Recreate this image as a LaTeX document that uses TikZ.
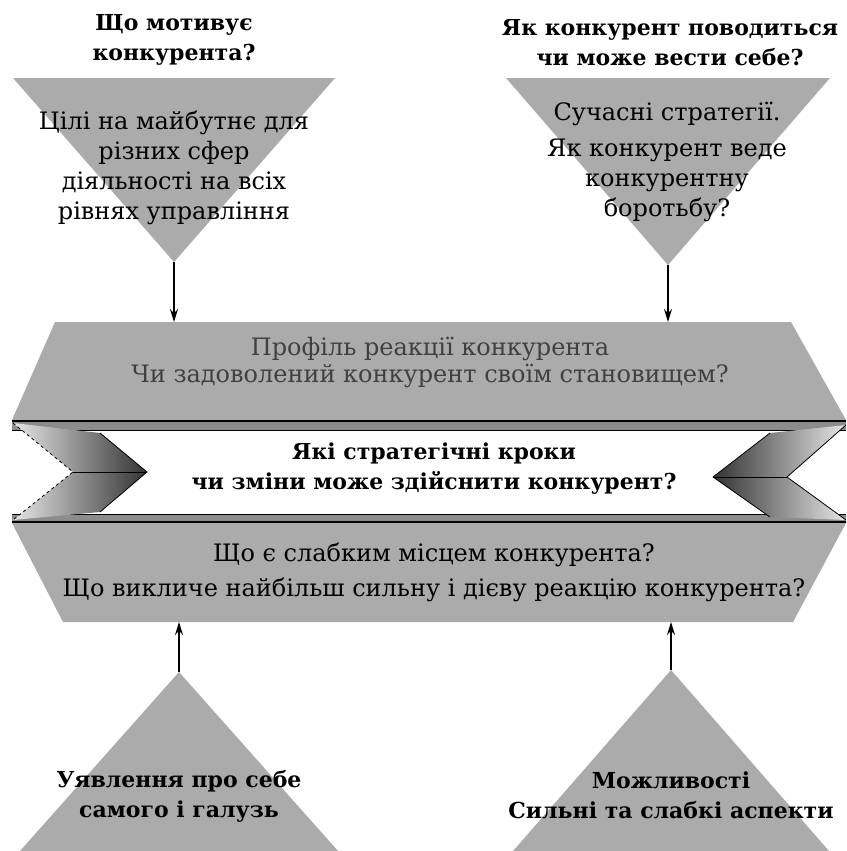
\documentclass[tikz,border=0pt]{standalone}
\usepackage{fontspec}
\setmainfont{DejaVu Serif}
\newfontfamily\cyrserif{DejaVu Serif}
\usetikzlibrary{arrows.meta}

\tikzset{
  grayfill/.style = {fill=black!33},
  titletext/.style = {font=\cyrserif\bfseries\fontsize{22}{30}\selectfont, align=center},
  bodytext/.style = {font=\cyrserif\fontsize{24}{30}\selectfont, align=center},
  link/.style = {line width=1.6pt, -{Stealth[length=13pt,width=8pt]}},
}

\begin{document}
\begin{tikzpicture}[x=1pt, y=-1pt]
  \useasboundingbox (0,0) rectangle (846,851);

  % Les triangles
  \fill[grayfill] (13,78) -- (335,78) -- (174,262) -- cycle;     % motivation
  \fill[grayfill] (506,78) -- (830,78) -- (668,265) -- cycle;    % strategie
  \fill[grayfill] (20,851) -- (338,851) -- (179,672) -- cycle;   % image de soi
  \fill[grayfill] (513,851) -- (829,851) -- (671,670) -- cycle;  % capacites

  % Les bandes
  \fill[grayfill] (55,322) -- (791,322) -- (846,420) -- (12,420) -- cycle;
  \fill[grayfill] (12,523) -- (846,523) -- (793,622) -- (63,622) -- cycle;
  \fill[white] (12,421) rectangle (846,522);
  \fill[black!45] (12,421) rectangle (846,430);
  \fill[black!45] (12,514) rectangle (846,522);
  \draw[line width=2pt] (12,421) -- (846,421);
  \draw[line width=1pt] (12,430) -- (846,430);
  \draw[line width=1pt] (12,514) -- (846,514);
  \draw[line width=2pt] (12,522) -- (846,522);

  % Les plis
  \shade[left color=black!10, right color=black!80]
    (13,423) -- (100,433) -- (147,472) -- (100,512) -- (13,520) -- (73,472) -- cycle;
  \draw[dashed, thick] (13,423) -- (73,472) -- (13,520);
  \draw[thick] (100,433) -- (147,472) -- (100,512);
  \draw[thick] (73,472) -- (147,472);
  \shade[left color=black!80, right color=black!10]
    (846,425) -- (770,433) -- (713,477) -- (770,517) -- (846,520) -- (787,477) -- cycle;
  \draw[thick] (846,425) -- (787,477) -- (846,520);
  \draw[thick] (770,433) -- (713,477) -- (770,517);
  \draw[thick] (713,477) -- (787,477);

  % Les points d'attache
  \coordinate (motiv tip) at (174,262);
  \coordinate (strat tip) at (668,265);
  \coordinate (self tip) at (179,672);
  \coordinate (capab tip) at (671,670);
  \coordinate (motiv in) at (174,322);
  \coordinate (strat in) at (668,322);
  \coordinate (self in) at (179,622);
  \coordinate (capab in) at (671,622);

  % Les textes
  \node[titletext] (motiv title) at (174,40) {Що мотивує\\конкурента?};
  \node[titletext] (strat title) at (670,43) {Як конкурент поводиться\\чи може вести себе?};
  \node[bodytext] (motiv) at (174,168) {Цілі на майбутнє для\\різних сфер\\діяльності на всіх\\рівнях управління};
  \node[bodytext] (strat) at (667,162) {Сучасні стратегії.\\[6pt]Як конкурент веде\\конкурентну\\боротьбу?};
  \node[bodytext, text=black!75, font=\cyrserif\fontsize{24}{27}\selectfont] (profile) at (430,362)
    {Профіль реакції конкурента\\Чи задоволений конкурент своїм становищем?};
  \node[titletext] (moves) at (434,469) {Які стратегічні кроки\\чи зміни може здійснити конкурент?};
  \node[bodytext, font=\cyrserif\fontsize{24}{35}\selectfont] (weak) at (434,572)
    {Що є слабким місцем конкурента?\\Що викличе найбільш сильну і дієву реакцію конкурента?};
  \node[titletext] (self) at (179,796) {Уявлення про себе\\самого і галузь};
  \node[titletext] (capab) at (671,795) {Можливості\\Сильні та слабкі аспекти};

  % Les fleches
  \draw[link] (motiv tip) -- (motiv in);
  \draw[link] (strat tip) -- (strat in);
  \draw[link] (self tip) -- (self in);
  \draw[link] (capab tip) -- (capab in);

\end{tikzpicture}
\end{document}
